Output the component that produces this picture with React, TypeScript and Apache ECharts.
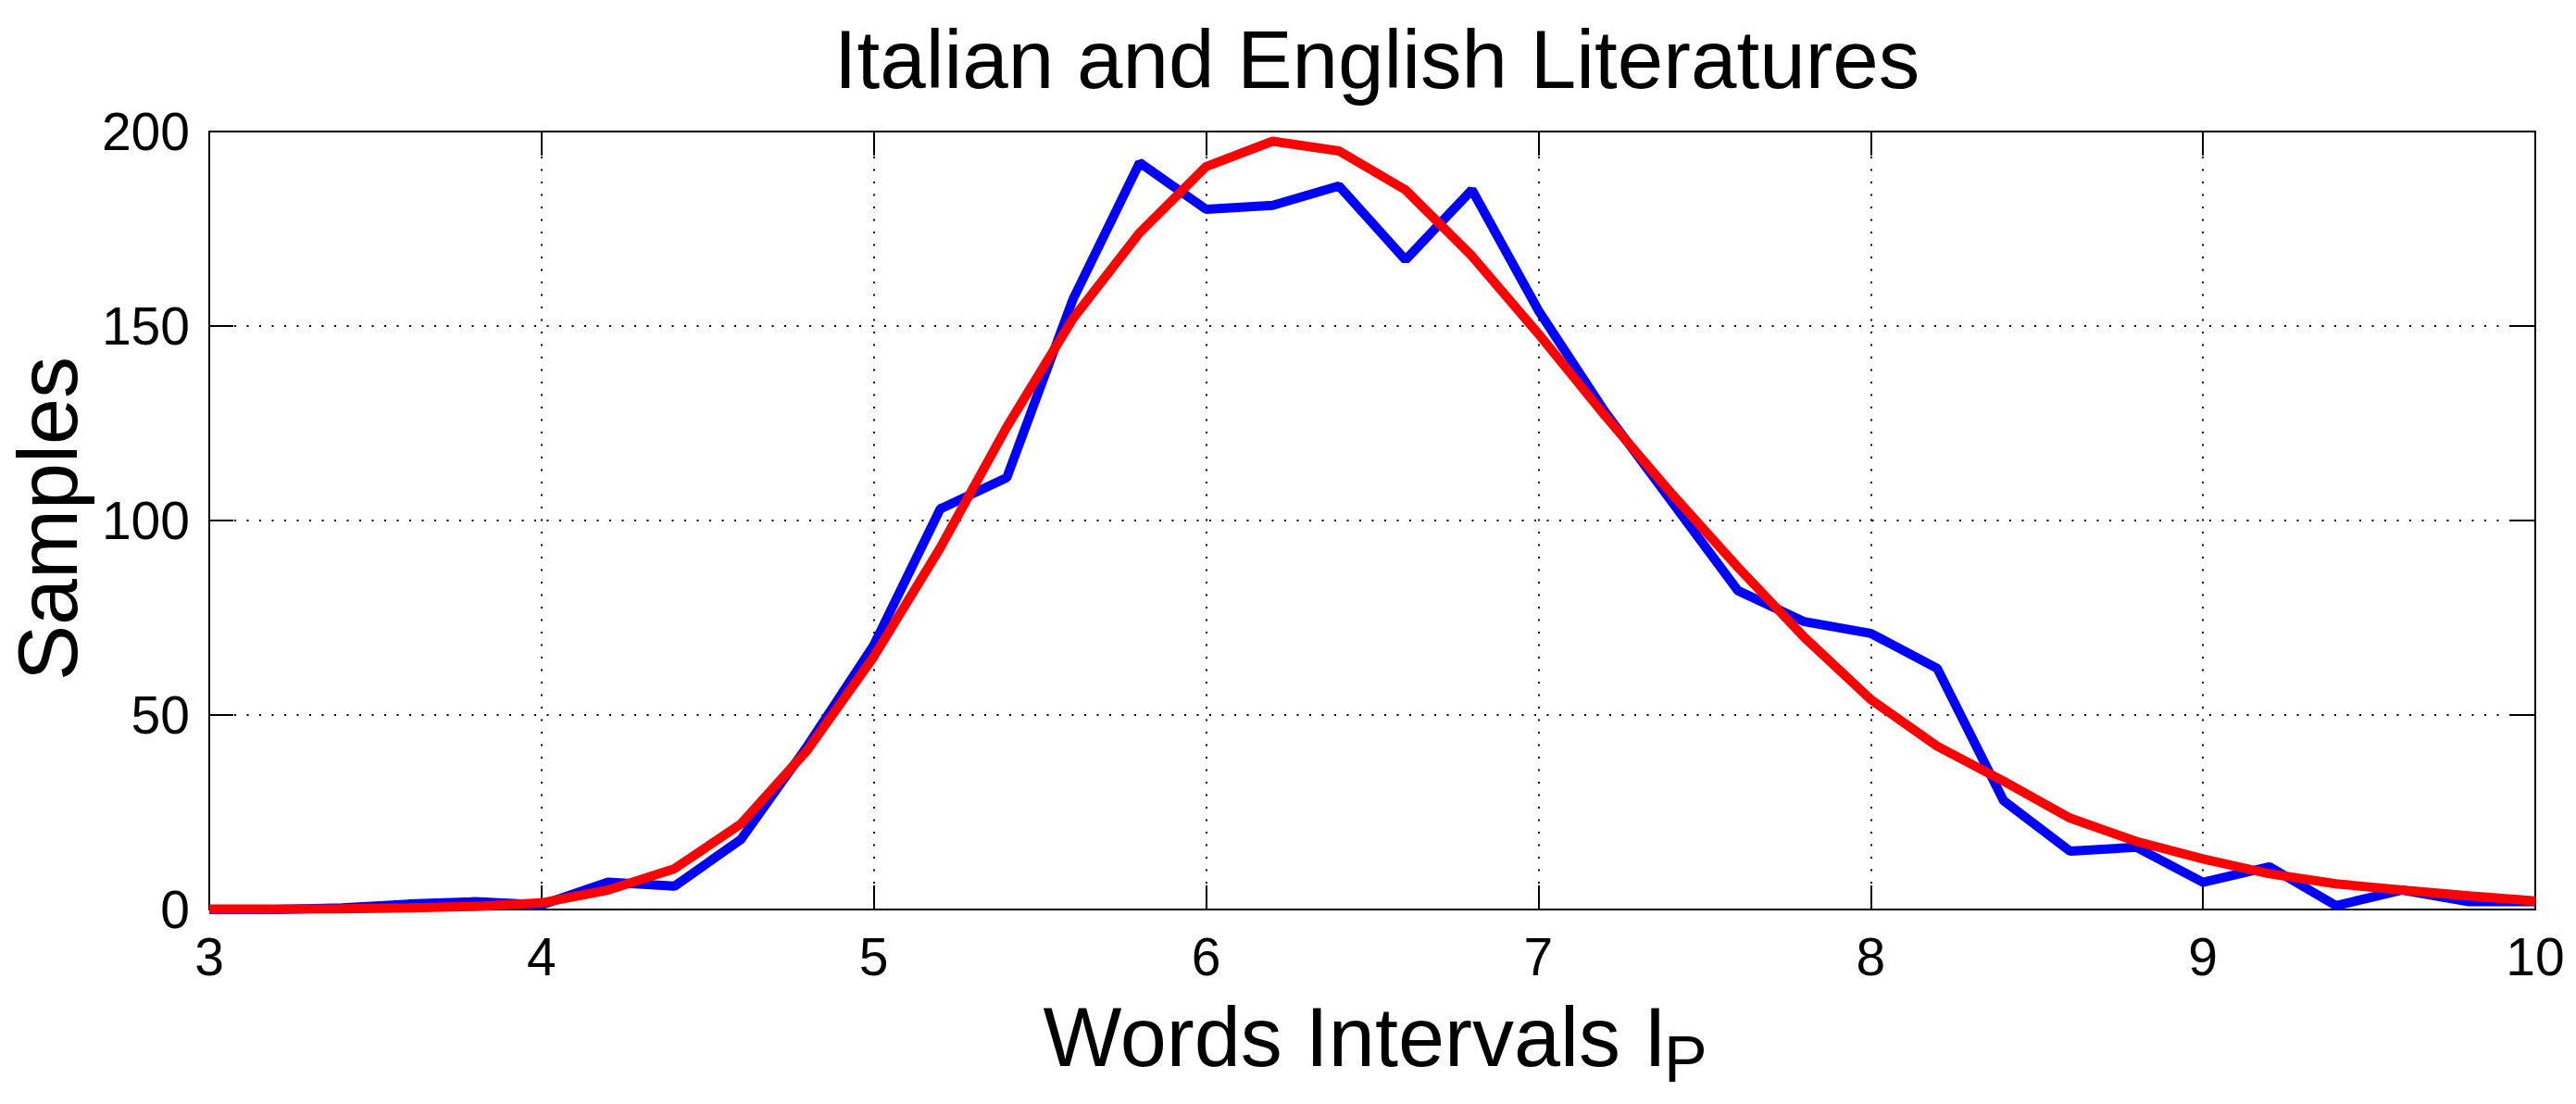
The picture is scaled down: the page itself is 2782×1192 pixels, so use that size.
import React, { useEffect, useRef } from "react";
import * as echarts from "echarts";

// Word-interval bins (I_P)
const wordIntervals = [
  3.0, 3.2, 3.4, 3.6, 3.8, 4.0, 4.2, 4.4, 4.6, 4.8, 5.0, 5.2, 5.4, 5.6, 5.8, 6.0, 6.2, 6.4,
  6.6, 6.8, 7.0, 7.2, 7.4, 7.6, 7.8, 8.0, 8.2, 8.4, 8.6, 8.8, 9.0, 9.2, 9.4, 9.6, 9.8, 10.0,
];

// Measured samples (blue)
const measuredSamples = [
  0, 0, 0.4, 1.4, 2, 1.2, 7, 6, 18, 42, 68, 103, 111, 157, 192, 180, 181, 186,
  167, 185, 154, 128, 105, 82, 74, 71, 62, 28, 15, 16, 7, 11, 1, 5, 2, 2,
];

// Fitted curve (red)
const fittedSamples = [
  0.1, 0.1, 0.2, 0.4, 0.8, 1.7, 5, 10.5, 22, 41, 65, 93, 124, 152, 174, 191, 197.5, 195,
  185, 168, 148, 127, 107, 88, 70, 54, 42, 33, 23.5, 17.5, 13, 9.2, 6.6, 5, 3.5, 2.2,
];

const xMin = 3;
const xMax = 10;
const xStep = 1;
const yMin = 0;
const yMax = 200;
const yStep = 50;

const titleText = "Italian and English Literatures";
const xLabelMain = "Words Intervals I";
const xLabelSub = "P";
const yLabelText = "Samples";

const FONT = "'Liberation Sans', Arial, Helvetica, sans-serif";

export default function App() {
  const ref = useRef<HTMLDivElement>(null);

  useEffect(() => {
    if (!ref.current) return;
    const chart = echarts.init(ref.current, undefined, { renderer: "svg" });

    const dotted = { color: "#000", width: 2, type: [2, 11.5] as number[] };
    const axisLine = { show: true, onZero: false, lineStyle: { color: "#000", width: 2 } };
    const innerTick = { show: true, inside: true, length: 26, lineStyle: { color: "#000", width: 2 } };

    const option: any = {
      animation: false,
      backgroundColor: "#ffffff",
      title: {
        text: titleText,
        left: 1482,
        textAlign: "center",
        top: 14,
        textStyle: { fontFamily: FONT, fontSize: 89, fontWeight: "normal", color: "#000" },
      },
      grid: {
        left: 226,
        right: 44,
        top: 142,
        bottom: 210,
        show: true,
        borderColor: "#000",
        borderWidth: 2,
        backgroundColor: "transparent",
      },
      xAxis: [
        {
          type: "value",
          min: xMin,
          max: xMax,
          interval: xStep,
          position: "bottom",
          axisLine,
          axisTick: innerTick,
          axisLabel: { show: true, margin: 22, fontFamily: FONT, fontSize: 57, color: "#000" },
          splitLine: { show: true, lineStyle: dotted },
        },
        {
          type: "value",
          min: xMin,
          max: xMax,
          interval: xStep,
          position: "top",
          axisLine,
          axisTick: innerTick,
          axisLabel: { show: false },
          splitLine: { show: false },
        },
      ],
      yAxis: [
        {
          type: "value",
          min: yMin,
          max: yMax,
          interval: yStep,
          position: "left",
          axisLine,
          axisTick: innerTick,
          axisLabel: { show: true, margin: 21, fontFamily: FONT, fontSize: 57, color: "#000" },
          splitLine: { show: true, lineStyle: dotted },
        },
        {
          type: "value",
          min: yMin,
          max: yMax,
          interval: yStep,
          position: "right",
          axisLine,
          axisTick: innerTick,
          axisLabel: { show: false },
          splitLine: { show: false },
        },
      ],
      graphic: [
        {
          type: "text",
          x: 1800,
          y: 1120,
          style: {
            text: xLabelMain,
            fontFamily: FONT,
            fontSize: 90,
            fill: "#000",
            align: "right",
            verticalAlign: "middle",
          },
        },
        {
          type: "text",
          x: 1797,
          y: 1144,
          style: {
            text: xLabelSub,
            fontFamily: FONT,
            fontSize: 70,
            fill: "#000",
            align: "left",
            verticalAlign: "middle",
          },
        },
        {
          type: "text",
          x: 52,
          y: 560,
          rotation: Math.PI / 2,
          style: {
            text: yLabelText,
            fontFamily: FONT,
            fontSize: 90,
            fill: "#000",
            align: "center",
            verticalAlign: "middle",
          },
        },
      ],
      series: [
        {
          name: "Samples",
          type: "line",
          xAxisIndex: 0,
          yAxisIndex: 0,
          data: wordIntervals.map((x, i) => [x, measuredSamples[i]]),
          showSymbol: false,
          symbol: "none",
          lineStyle: { color: "#0000ff", width: 10 },
          itemStyle: { color: "#0000ff" },
          z: 3,
        },
        {
          name: "Fit",
          type: "line",
          xAxisIndex: 0,
          yAxisIndex: 0,
          data: wordIntervals.map((x, i) => [x, fittedSamples[i]]),
          showSymbol: false,
          symbol: "none",
          lineStyle: { color: "#ff0000", width: 10 },
          itemStyle: { color: "#ff0000" },
          z: 4,
        },
      ],
    };

    chart.setOption(option);
    return () => chart.dispose();
  }, []);

  return (
    <div
      ref={ref}
      style={{ position: "fixed", left: 0, top: 0, width: 2782, height: 1192, background: "#fff" }}
    />
  );
}
